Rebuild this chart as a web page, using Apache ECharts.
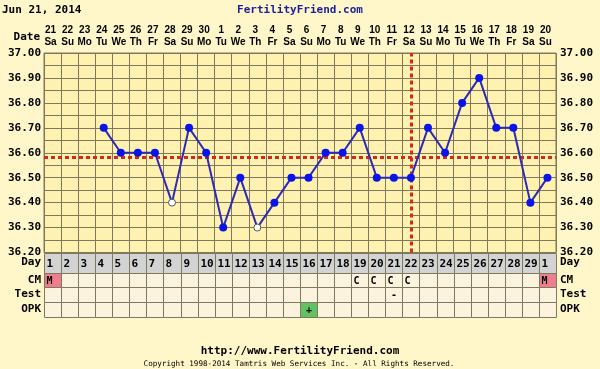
<!DOCTYPE html>
<html>
<head>
<meta charset="utf-8">
<script src="https://cdn.jsdelivr.net/npm/echarts@6/dist/echarts.min.js"></script>
<style>
html,body{margin:0;padding:0;background:#FFF6C9;}
#chart{width:600px;height:369px;}
</style>
</head>
<body>
<div id="chart"></div>
<script>
// ---- data ----
const chartDate = 'Jun 21, 2014';
const dates = ['21','22','23','24','25','26','27','28','29','30','1','2','3','4','5','6','7','8','9','10','11','12','13','14','15','16','17','18','19','20'];
const weekdays = ['Sa','Su','Mo','Tu','We','Th','Fr','Sa','Su','Mo','Tu','We','Th','Fr','Sa','Su','Mo','Tu','We','Th','Fr','Sa','Su','Mo','Tu','We','Th','Fr','Sa','Su'];
const cycleDays = ['1','2','3','4','5','6','7','8','9','10','11','12','13','14','15','16','17','18','19','20','21','22','23','24','25','26','27','28','29','1'];
const temps = [null,null,null,36.70,36.60,36.60,36.60,36.40,36.70,36.60,36.30,36.50,36.30,36.40,36.50,36.50,36.60,36.60,36.70,36.50,36.50,36.50,36.70,36.60,36.80,36.90,36.70,36.70,36.40,36.50];
const openPointIdx = [7, 12];
const coverline = 36.58;
const ovulationIdx = 21;
const cmRow   = ['M','','','','','','','','','','','','','','','','','','C','C','C','C','','','','','','','','M'];
const testRow = ['','','','','','','','','','','','','','','','','','','','','-','','','','','','','','',''];
const opkRow  = ['','','','','','','','','','','','','','','','+','','','','','','','','','','','','','',''];
const tempTicks = {min: 36.2, max: 37.0, step: 0.05};
const rowNames = ['CM','Test','OPK'];

// ---- styles ----
const MONO = '"DejaVu Sans Mono", monospace';
const gridColor = '#80785C';
const cellFills = {M: '#EE7E8E', '+': '#62C262'};
const centeredMarks = {'+': true, '-': true};

const chart = echarts.init(document.getElementById('chart'), null, {renderer: 'canvas'});

const tempFmt = v => { const h = Math.round(v * 100); return h % 10 === 0 ? (h / 100).toFixed(2) : ''; };

const lineData = temps.map((t, i) => {
  if (t === null) return null;
  if (openPointIdx.indexOf(i) >= 0) {
    return {value: t, symbolSize: 7, itemStyle: {color: '#FFFFFF', borderColor: '#555566', borderWidth: 1}};
  }
  return t;
});

const dayCells = cycleDays.map((d, i) => [i, 0]);
const obsRows = [cmRow, testRow, opkRow];
const obsCells = [];
obsRows.forEach((row, r) => row.forEach((v, i) => obsCells.push([i, r, v])));

function cellRender(textOf, fillOf, font) {
  return function (params, api) {
    const i = api.value(0), r = api.value(1);
    const c = api.coord([i, r]);
    const s = api.size([1, 1]);
    const x0 = Math.round(c[0] - s[0] / 2) + 0.5, y0 = Math.round(c[1] - s[1] / 2) + 0.5;
    const w = Math.round(c[0] + s[0] / 2) + 0.5 - x0, h = Math.round(c[1] + s[1] / 2) + 0.5 - y0;
    const txt = textOf(params.dataIndex);
    const centered = !!centeredMarks[txt];
    return {
      type: 'group',
      children: [
        {type: 'rect', shape: {x: x0, y: y0, width: w, height: h},
         style: {fill: fillOf(params.dataIndex), stroke: gridColor, lineWidth: 1}},
        {type: 'text', style: {text: txt, x: centered ? x0 + w / 2 : x0 + 2, y: y0 + h / 2 + (centered ? 0 : 1),
          align: centered ? 'center' : 'left', verticalAlign: 'middle', font: font, fill: '#000'}}
      ]
    };
  };
}

const labelBase = {color: '#000', fontFamily: MONO, fontWeight: 'bold', fontSize: 11};

const option = {
  animation: false,
  backgroundColor: '#FFF6C9',
  graphic: [
    {type: 'text', x: 2, y: 10.5, style: {text: chartDate, verticalAlign: 'middle', font: 'bold 11px ' + MONO, fill: '#000'}},
    {type: 'text', x: 300, y: 10.5, style: {text: 'FertilityFriend.com', align: 'center', verticalAlign: 'middle', font: 'bold 11px ' + MONO, fill: '#1B1F9A'}},
    {type: 'text', x: 40, y: 37, style: {text: 'Date', align: 'right', verticalAlign: 'middle', font: 'bold 11px ' + MONO, fill: '#000'}},
    {type: 'text', x: 300, y: 351, style: {text: 'http://www.FertilityFriend.com', align: 'center', verticalAlign: 'middle', font: 'bold 11px ' + MONO, fill: '#000'}},
    {type: 'text', x: 299, y: 364, style: {text: 'Copyright 1998-2014 Tamtris Web Services Inc. - All Rights Reserved.', align: 'center', verticalAlign: 'middle', font: '7.6px ' + MONO, fill: '#000'}}
  ],
  grid: [
    {left: 44, right: 44, top: 53, height: 199.5, show: true, backgroundColor: '#FFF1B0', borderColor: gridColor, borderWidth: 1},
    {left: 44, right: 44, top: 252.5, height: 20},
    {left: 44, right: 44, top: 272.5, height: 44}
  ],
  xAxis: [
    {type: 'category', gridIndex: 0, position: 'top', data: dates.map((d, i) => d + '\n' + weekdays[i]),
     boundaryGap: true, axisLine: {show: false}, axisTick: {show: false},
     splitLine: {show: true, interval: 0, lineStyle: {color: gridColor, width: 1}},
     axisLabel: {interval: 0, margin: 5, color: '#000', fontFamily: '"Liberation Sans", Arial, sans-serif', fontWeight: 'bold', fontSize: 10, lineHeight: 12, padding: [0, 4, 0, 0]}},
    {type: 'category', gridIndex: 1, data: cycleDays, show: false, boundaryGap: true},
    {type: 'category', gridIndex: 2, data: cycleDays, show: false, boundaryGap: true}
  ],
  yAxis: [
    {type: 'value', gridIndex: 0, min: tempTicks.min, max: tempTicks.max, interval: tempTicks.step, position: 'left',
     axisLine: {show: false}, axisTick: {show: false},
     splitLine: {show: true, lineStyle: {color: gridColor, width: 1}},
     axisLabel: Object.assign({margin: 3, formatter: tempFmt, showMinLabel: true, showMaxLabel: true}, labelBase)},
    {type: 'value', gridIndex: 0, min: tempTicks.min, max: tempTicks.max, interval: tempTicks.step, position: 'right',
     axisLine: {show: false}, axisTick: {show: false}, splitLine: {show: false},
     axisLabel: Object.assign({margin: 4, formatter: tempFmt, showMinLabel: true, showMaxLabel: true}, labelBase)},
    {type: 'category', gridIndex: 1, data: ['Day'], position: 'left', axisLine: {show: false}, axisTick: {show: false},
     axisLabel: Object.assign({margin: 3}, labelBase)},
    {type: 'category', gridIndex: 1, data: ['Day'], position: 'right', axisLine: {show: false}, axisTick: {show: false},
     axisLabel: Object.assign({margin: 4}, labelBase)},
    {type: 'category', gridIndex: 2, data: rowNames, inverse: true, position: 'left', axisLine: {show: false}, axisTick: {show: false},
     axisLabel: Object.assign({margin: 3}, labelBase)},
    {type: 'category', gridIndex: 2, data: rowNames, inverse: true, position: 'right', axisLine: {show: false}, axisTick: {show: false},
     axisLabel: Object.assign({margin: 4}, labelBase)}
  ],
  series: [
    {type: 'line', xAxisIndex: 0, yAxisIndex: 0, data: lineData, connectNulls: false,
     symbol: 'circle', symbolSize: 8, itemStyle: {color: '#0A14E6'},
     lineStyle: {color: '#2B2BB8', width: 2}, z: 5,
     markLine: {silent: true, symbol: 'none', label: {show: false},
       lineStyle: {color: '#D42A1E', type: [4, 3], width: 3},
       data: [{yAxis: coverline}, {xAxis: ovulationIdx}]}},
    {type: 'custom', xAxisIndex: 1, yAxisIndex: 2, data: dayCells,
     renderItem: cellRender(i => cycleDays[i], () => '#D3D3D3', 'bold 11px ' + MONO)},
    {type: 'custom', xAxisIndex: 2, yAxisIndex: 4, data: obsCells.map(c => [c[0], c[1]]),
     renderItem: cellRender(i => obsCells[i][2], i => cellFills[obsCells[i][2]] || '#FCF3DE', 'bold 10px ' + MONO)}
  ]
};
chart.setOption(option);
</script>
</body>
</html>
